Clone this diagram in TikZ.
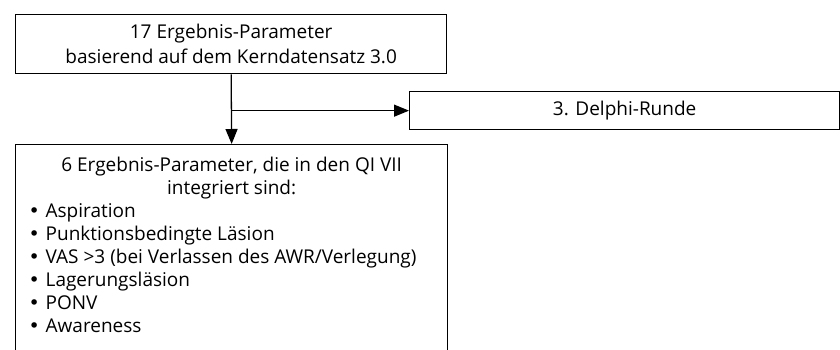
\documentclass[tikz,border=0pt]{standalone}
\usepackage{fontspec}
\setmainfont{Open Sans}[Ligatures=NoCommon]
\newfontfamily\dvfont{DejaVu Sans}
\newcommand\mybul{\hspace*{13pt}\makebox[17pt][l]{\dvfont •}}
\usetikzlibrary{arrows.meta}
\tikzset{
  box/.style={draw=black, line width=1.3pt, fill=white, inner sep=0pt, align=center},
  conn/.style={line width=1.3pt, -{Triangle[length=15pt,width=12pt]}},
}
\begin{document}
\begin{tikzpicture}[x=1pt,y=-1pt]
\useasboundingbox (0,0) rectangle (840,350);
\clip (0,0) rectangle (840,350);
\node[box, minimum width=431pt, minimum height=59pt, anchor=north west,
      font=\fontsize{19pt}{25pt}\selectfont] (top) at (15,14)
  {17 Ergebnis-Parameter\\basierend auf dem Kerndatensatz 3.0};
\node[box, minimum width=430pt, minimum height=38pt, anchor=north west,
      font=\fontsize{19pt}{25pt}\selectfont] (delphi) at (409,91)
  {3. Delphi-Runde};
\node[box, minimum width=432pt, minimum height=230pt, anchor=north west,
      font=\fontsize{19pt}{23pt}\selectfont] (res) at (15,144)
  {\parbox[c][230pt][t]{432pt}{%
    \vspace*{12pt}%
    \centering 6 Ergebnis-Parameter, die in den QI VII\\integriert sind:\par
    \raggedright
    \mybul Aspiration\\
    \mybul Punktionsbedingte Läsion\\
    \mybul VAS >3 (bei Verlassen des AWR/Verlegung)\\
    \mybul Lagerungsläsion\\
    \mybul PONV\\
    \mybul Awareness\par}};
\coordinate (branch) at (top.south |- delphi.west);
\draw[conn] (top.south) -- (res.north);
\draw[conn] (branch) -- (delphi.west);
\end{tikzpicture}
\end{document}
